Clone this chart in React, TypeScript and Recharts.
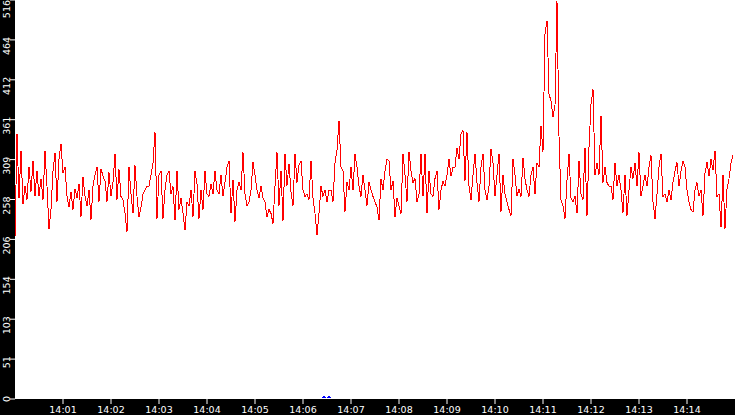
import React from "react";
import { LineChart, Line, XAxis, YAxis, CartesianGrid, ReferenceDot } from "recharts";

// sampling: one reading every 2.5 seconds starting at 14:00:00
const sampleStepSeconds = 2.5;

const seg1 = [210, 343, 260, 321, 252, 275, 258, 300, 268, 308, 262, 295, 262, 285, 258, 321, 275, 220, 245, 295, 318, 255, 310, 330, 292, 300, 262, 248, 268, 245, 272, 260, 278, 236, 287, 262, 250, 270, 232, 275, 290, 300, 255, 298, 288];
const seg2 = [282, 255, 293, 262, 280, 317, 258, 297, 262, 258, 240, 216, 300, 265, 240, 302, 262, 235, 248, 265, 270, 275, 275, 290, 305, 345, 233, 290, 295, 233, 270, 290, 295, 265, 275, 231, 295, 245, 260, 240, 218, 255, 250, 270, 236];
const seg3 = [295, 278, 233, 270, 245, 295, 265, 262, 278, 265, 295, 270, 265, 290, 262, 280, 300, 308, 240, 283, 229, 270, 280, 270, 319, 265, 250, 255, 270, 306, 290, 270, 260, 275, 260, 255, 235, 245, 240, 227, 275, 319, 250, 295, 230];
const seg4 = [317, 276, 304, 268, 250, 317, 280, 303, 308, 270, 262, 265, 258, 308, 260, 240, 212, 240, 275, 262, 270, 255, 270, 270, 255, 305, 322, 360, 300, 295, 242, 280, 270, 300, 270, 317, 300, 275, 262, 290, 270, 250, 280, 270, 262];
const seg5 = [255, 248, 231, 285, 270, 295, 310, 308, 270, 282, 235, 260, 250, 240, 317, 290, 255, 320, 295, 280, 285, 255, 265, 317, 262, 317, 240, 295, 265, 262, 285, 295, 245, 270, 282, 275, 290, 310, 288, 300, 300, 325, 310, 343, 347];
const seg6 = [282, 345, 275, 257, 290, 317, 280, 255, 300, 317, 270, 257, 275, 323, 305, 262, 290, 317, 242, 290, 265, 255, 245, 237, 310, 290, 262, 272, 262, 312, 285, 270, 262, 290, 300, 265, 305, 300, 353, 320, 472, 489, 395, 385, 365, 380, 515, 340, 257, 250];
const seg7 = [233, 283, 317, 260, 255, 262, 240, 308, 265, 258, 325, 237, 325, 381, 401, 290, 305, 290, 366, 280, 300, 280, 275, 275, 258, 305, 275, 290, 270, 241, 290, 237, 270, 300, 285, 305, 275, 319, 262, 275];
const seg8 = [290, 275, 300, 315, 255, 233, 265, 300, 317, 262, 265, 255, 270, 257, 280, 295, 306, 275, 295, 308, 300, 270, 255, 245, 242, 270, 280, 262, 270, 237, 292, 306, 288, 310, 296, 321, 262, 265, 222, 290, 220, 272, 285, 305, 315];

const values = [...seg1, ...seg2, ...seg3, ...seg4, ...seg5, ...seg6, ...seg7, ...seg8];

const xTicks = [60, 120, 180, 240, 300, 360, 420, 480, 540, 600, 660, 720, 780, 840];
const xTickLabels = ["14:01", "14:02", "14:03", "14:04", "14:05", "14:06", "14:07", "14:08", "14:09", "14:10", "14:11", "14:12", "14:13", "14:14"];

const yTicks = [0, 51.6, 103.2, 154.8, 206.4, 258, 309.6, 361.2, 412.8, 464.4, 516];
const yTickLabels = ["0", "51", "103", "154", "206", "258", "309", "361", "412", "464", "516"];

const markerTimes = [386, 392];

const data = values.map((v, i) => ({ t: i * sampleStepSeconds, v }));

const FONT = "DejaVu Sans";

const YTick = (props: any) => {
  const { y, payload } = props;
  const idx = yTicks.indexOf(payload.value);
  const label = idx >= 0 ? yTickLabels[idx] : String(Math.floor(payload.value));
  const ty = Math.max(y - 3, 0);
  return (
    <text
      transform={`translate(10, ${ty}) rotate(-90)`}
      textAnchor="end"
      fill="#ffffff"
      fontSize={9.5}
      fontFamily={FONT}
    >
      {label}
    </text>
  );
};

const Marker = (props: any) => {
  const { cx, cy } = props;
  const x = Math.round(cx);
  const y = Math.round(cy);
  return (
    <path
      d={`M${x - 1.5},${y - 0.5} L${x - 0.5},${y - 2.5} M${x + 0.5},${y - 2.5} L${x + 1.5},${y - 0.5}`}
      stroke="#0000ff"
      strokeWidth={1}
      fill="none"
      shapeRendering="crispEdges"
    />
  );
};

export default function App() {
  return (
    <div style={{ position: "absolute", left: 0, top: 0, width: 735, height: 415, background: "#000" }}>
      <style>{`.recharts-line-curve { shape-rendering: crispEdges; }`}</style>
      <LineChart width={735} height={415} data={data} margin={{ top: 0, right: 0, bottom: 0, left: 0 }}>
        <CartesianGrid stroke="none" fill="#ffffff" horizontal={false} vertical={false} />
        <XAxis
          dataKey="t"
          type="number"
          domain={[0, 900]}
          ticks={xTicks}
          interval={0}
          tickFormatter={(v: number) => xTickLabels[xTicks.indexOf(v)] ?? ""}
          axisLine={false}
          tickLine={{ stroke: "#ffffff" }}
          tickSize={5}
          tickMargin={2}
          height={16}
          tick={{ fill: "#ffffff", fontSize: 9.5, fontFamily: FONT }}
        />
        <YAxis
          type="number"
          domain={[0, 516]}
          ticks={yTicks}
          interval={0}
          axisLine={false}
          tickLine={{ stroke: "#ffffff" }}
          tickSize={5}
          width={15}
          tick={<YTick />}
        />
        <Line
          dataKey="v"
          type="linear"
          stroke="#ff0000"
          strokeWidth={1}
          dot={false}
          activeDot={false}
          isAnimationActive={false}
        />
        {markerTimes.map((t) => (
          <ReferenceDot key={t} x={t} y={0} r={2} shape={<Marker />} ifOverflow="visible" />
        ))}
      </LineChart>
    </div>
  );
}
